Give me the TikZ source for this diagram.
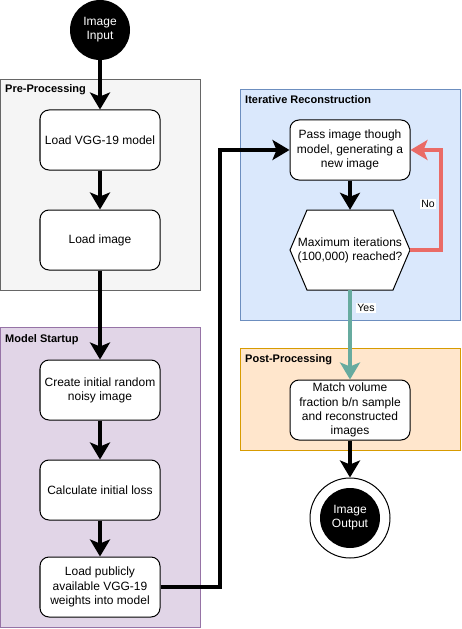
\documentclass[tikz,border=0pt]{standalone}
\usepackage{fontspec}
\setmainfont{Liberation Sans}
\usetikzlibrary{arrows.meta,calc}
\definecolor{preFill}{HTML}{F5F5F5}\definecolor{preLine}{HTML}{666666}
\definecolor{modFill}{HTML}{E1D5E7}\definecolor{modLine}{HTML}{9673A6}
\definecolor{itFill}{HTML}{DAE8FC}\definecolor{itLine}{HTML}{6C8EBF}
\definecolor{postFill}{HTML}{FFE6CC}\definecolor{postLine}{HTML}{D79B00}
\definecolor{noRed}{HTML}{EA6B66}\definecolor{yesTeal}{HTML}{67AB9F}
\begin{document}
\begin{tikzpicture}[x=1bp,y=-1bp,
  stepbox/.style={draw=black, line width=1bp, fill=white, rounded corners=9bp,
    minimum width=120bp, minimum height=60bp, align=center,
    inner sep=0pt, font=\fontsize{12bp}{14.2bp}\selectfont},
  container/.style={draw, line width=1bp, inner sep=0pt},
  grouplabel/.style={anchor=base west, inner sep=0pt, font=\fontsize{11bp}{13bp}\selectfont\bfseries},
  terminal/.style={circle, fill=black, minimum size=60bp, inner sep=0pt, align=center,
    text=white, font=\fontsize{12bp}{14.2bp}\selectfont},
  flow/.style={line width=3.6bp, -{Stealth[length=17bp,width=20bp,inset=4bp]}},
  edgelabel/.style={fill=white, inner sep=1bp, font=\fontsize{10.5bp}{12bp}\selectfont}
]
\useasboundingbox (0,0) rectangle (462,629);

% containers
\node[container, draw=preLine, fill=preFill, minimum width=200bp, minimum height=210bp] (pre) at (100.5,185) {};
\node[grouplabel] (prelbl) at (5,93) {Pre-Processing};
\node[container, draw=modLine, fill=modFill, minimum width=200bp, minimum height=300bp] (mod) at (100.5,477) {};
\node[grouplabel] (modlbl) at (5,342) {Model Startup};
\node[container, draw=itLine, fill=itFill, minimum width=220bp, minimum height=230bp] (it) at (350,205) {};
\node[grouplabel] (itlbl) at (245,104) {Iterative Reconstruction};
\node[container, draw=postLine, fill=postFill, minimum width=220bp, minimum height=102bp] (post) at (350,399) {};
\node[grouplabel] (postlbl) at (245,362) {Post-Processing};

% nodes
\node[terminal] (in) at (100,30) {Image\\Input};
\node[stepbox] (vgg) at (100,140) {Load VGG-19 model};
\node[stepbox] (img) at (100,240) {Load image};
\node[stepbox] (noise) at (100,390) {Create initial random\\noisy image};
\node[stepbox] (loss) at (100,490) {Calculate initial loss};
\node[stepbox] (wts) at (100,587) {Load publicly\\available VGG-19\\weights into model};
\node[stepbox] (pass) at (350,150) {Pass image though\\model, generating a\\new image};
\coordinate (hc) at (350,250);
\filldraw[draw=black, fill=white, line width=1bp]
  ($(hc)+(-43,-40)$) -- ($(hc)+(43,-40)$) -- ($(hc)+(60,0)$) -- ($(hc)+(43,40)$)
  -- ($(hc)+(-43,40)$) -- ($(hc)+(-60,0)$) -- cycle;
\node[minimum width=120bp, minimum height=80bp, inner sep=0pt, align=center,
  font=\fontsize{12bp}{14.2bp}\selectfont] (hex) at (hc) {Maximum iterations\\(100,000) reached?};
\node[stepbox] (match) at (350,410) {Match volume\\fraction b/n sample\\and reconstructed\\images};
\node[circle, draw=black, line width=1bp, fill=white, minimum size=80bp, inner sep=0pt] (outring) at (350,518) {};
\node[terminal] (out) at (350,518) {Image\\Output};

% connectors
\draw[flow] (in) -- (vgg);
\draw[flow] (vgg) -- (img);
\draw[flow] (img) -- (noise);
\draw[flow] (noise) -- (loss);
\draw[flow] (loss) -- (wts);
\coordinate (jA) at (220,587);
\coordinate (jB) at (220,150);
\draw[flow] (wts.east) -- (jA) -- (jB) -- (pass.west);
\draw[flow] (pass) -- (hex.north);
\coordinate (nA) at (441,250);
\coordinate (nB) at (441,150);
\draw[flow, draw=noRed] (hex.east) -- (nA) -- (nB) -- (pass.east);
\node[edgelabel] (nolbl) at (428,204) {No};
\draw[flow, draw=yesTeal] (hex.south) -- (match.north);
\node[edgelabel] (yeslbl) at (366,308) {Yes};
\draw[flow] (match) -- (outring);
\end{tikzpicture}
\end{document}
